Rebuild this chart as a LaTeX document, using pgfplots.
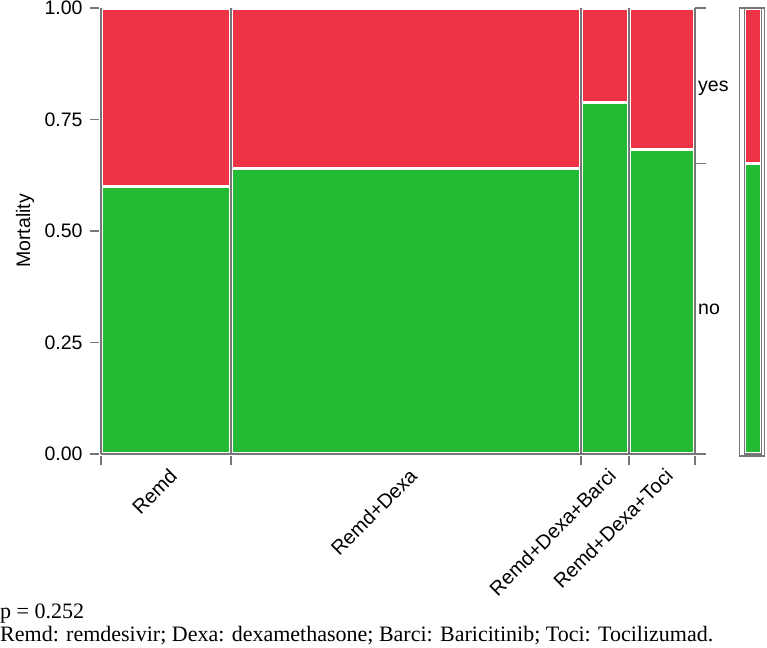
\documentclass[border=0pt]{standalone}
\usepackage{pgfplots}
\pgfplotsset{compat=1.18}
\usepackage{fontspec}
\setmainfont{Liberation Sans}
\newfontfamily\timesfont{Liberation Serif}
\definecolor{myred}{RGB}{238,51,71}
\definecolor{mygreen}{RGB}{34,187,51}
\definecolor{axgray}{RGB}{118,118,118}
\begin{document}
\begin{tikzpicture}[x=1pt,y=1pt,
  cell/.style={draw=white, line width=3.2pt},
  lab/.style={xshift=2pt, yshift=-13pt, rotate=45, anchor=north east, inner sep=0pt, font=\fontsize{20}{20}\selectfont},
  sep/.style={axgray, line width=1.6pt},
  tk/.style={axgray, line width=1.4pt}]
\path[use as bounding box] (0,0) rectangle (767,-647);
\begin{axis}[
  at={(101pt,-454pt)}, anchor=south west,
  width=594pt, height=446pt, scale only axis,
  xmin=0, xmax=1, ymin=0, ymax=1, clip=false,
  axis x line*=bottom, axis y line*=left,
  axis line style={-, draw=axgray, line width=1.6pt},
  tick align=outside, major tick length=11pt,
  tick style={draw=axgray, line width=1.4pt},
  xtick={0,0.219,0.808,0.889,1}, xticklabels={},
  ytick={0,0.25,0.5,0.75,1}, yticklabels={0.00,0.25,0.50,0.75,1.00},
  yticklabel style={font=\fontsize{19.5}{20}\selectfont, text=black, xshift=-4pt},
]
% Remd
\addplot[cell, fill=mygreen] coordinates {(0,0) (0.219,0) (0.219,0.599) (0,0.599)} -- cycle;
\addplot[cell, fill=myred] coordinates {(0,0.599) (0.219,0.599) (0.219,1) (0,1)} -- cycle;
% Remd+Dexa
\addplot[cell, fill=mygreen] coordinates {(0.219,0) (0.808,0) (0.808,0.641) (0.219,0.641)} -- cycle;
\addplot[cell, fill=myred] coordinates {(0.219,0.641) (0.808,0.641) (0.808,1) (0.219,1)} -- cycle;
% Remd+Dexa+Barci
\addplot[cell, fill=mygreen] coordinates {(0.808,0) (0.889,0) (0.889,0.789) (0.808,0.789)} -- cycle;
\addplot[cell, fill=myred] coordinates {(0.808,0.789) (0.889,0.789) (0.889,1) (0.808,1)} -- cycle;
% Remd+Dexa+Toci
\addplot[cell, fill=mygreen] coordinates {(0.889,0) (1,0) (1,0.682) (0.889,0.682)} -- cycle;
\addplot[cell, fill=myred] coordinates {(0.889,0.682) (1,0.682) (1,1) (0.889,1)} -- cycle;
% marginal bar
\addplot[cell, fill=mygreen] coordinates {(1.0833,0) (1.1120,0) (1.1120,0.652) (1.0833,0.652)} -- cycle;
\addplot[cell, fill=myred] coordinates {(1.0833,0.652) (1.1120,0.652) (1.1120,1) (1.0833,1)} -- cycle;
% column separators and frame
\draw[sep] (axis cs:0,0) -- (axis cs:0,1);
\draw[sep] (axis cs:0.219,0) -- (axis cs:0.219,1);
\draw[sep] (axis cs:0.808,0) -- (axis cs:0.808,1);
\draw[sep] (axis cs:0.889,0) -- (axis cs:0.889,1);
\draw[sep] (axis cs:1,0) -- (axis cs:1,1);
\draw[sep] (axis cs:0,0) -- (axis cs:1,0);
\draw[tk] (axis cs:1,0) -- ++(11pt,0);
\draw[tk] (axis cs:1,0.652) -- ++(11pt,0);
\draw[tk] (axis cs:1,1) -- ++(11pt,0);
\draw[tk] (axis cs:1.0833,0) -- (axis cs:1.0833,1);
\draw[tk] (axis cs:1.1120,0) -- (axis cs:1.1120,1);
\draw[tk] (axis cs:1.0833,0) -- (axis cs:1.1120,0);
\draw[sep] (axis cs:1.0750,-0.004) rectangle (axis cs:1.1170,1);
% right labels
\node[anchor=base west, inner sep=0pt, font=\fontsize{19.5}{20}\selectfont, xshift=3pt] at (axis cs:1,0.8117) {yes};
\node[anchor=base west, inner sep=0pt, font=\fontsize{19.5}{20}\selectfont, xshift=3pt] at (axis cs:1,0.3117) {no};
% category labels
\node[lab] at (axis cs:0.1095,0) {Remd};
\node[lab] at (axis cs:0.5135,0) {Remd+Dexa};
\node[lab] at (axis cs:0.8485,0) {Remd+Dexa+Barci};
\node[lab] at (axis cs:0.9445,0) {Remd+Dexa+Toci};
\end{axis}
\node[rotate=90, font=\fontsize{19.5}{20}\selectfont] at (25,-231) {Mortality};
\node[anchor=base west, inner sep=0pt, font=\timesfont\fontsize{22}{24}\selectfont] at (0,-618) {p = 0.252};
\node[anchor=base west, inner sep=0pt, font=\timesfont\fontsize{22}{24}\selectfont] at (0,-641) {Remd: remdesivir; Dexa: dexamethasone; Barci: Baricitinib; Toci: Tocilizumad.};
\end{tikzpicture}
\end{document}
